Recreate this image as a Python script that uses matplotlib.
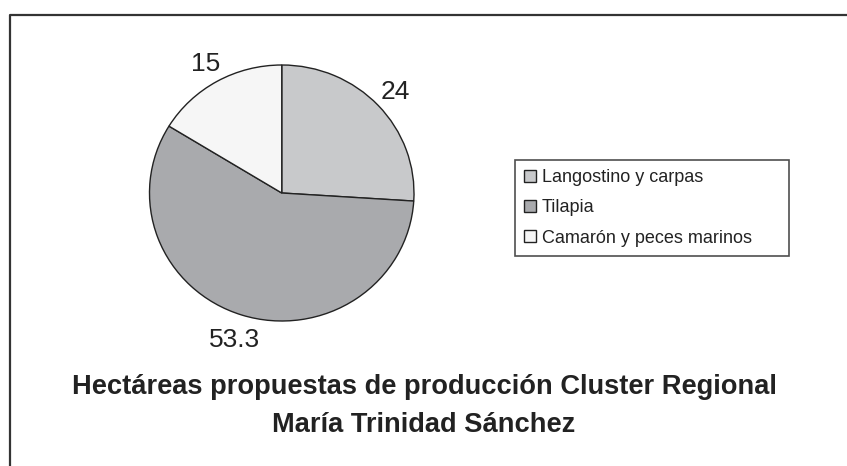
import matplotlib.pyplot as plt
from matplotlib.lines import Line2D

categorias = ["Langostino y carpas", "Tilapia", "Camarón y peces marinos"]
hectareas = [24, 53.3, 15]
etiquetas = ["24", "53.3", "15"]
colores = ["#c8c9cb", "#a9aaad", "#f6f6f6"]
titulo = "Hectáreas propuestas de producción Cluster Regional\nMaría Trinidad Sánchez"

W, H = 847, 466
fig = plt.figure(figsize=(W / 100, H / 100), dpi=100)
plt.rcParams['font.family'] = ['Liberation Sans', 'DejaVu Sans']


def px(x0, y0, x1, y1):
    # pixel box (top-left origin) -> figure fraction rect
    return [x0 / W, 1 - y1 / H, (x1 - x0) / W, (y1 - y0) / H]


# marco de la figura (solo arriba e izquierda visibles)
fig.add_artist(Line2D([10 / W, 10 / W, 1], [0, 1 - 15 / H, 1 - 15 / H],
                      transform=fig.transFigure, color="#333333", lw=1.6))

ax = fig.add_axes(px(149.5, 65, 414, 321))
wedges, textos = ax.pie(hectareas, labels=etiquetas, colors=colores,
                        startangle=90, counterclock=False, labeldistance=1.18,
                        wedgeprops=dict(edgecolor="#222222", linewidth=1.0),
                        textprops=dict(fontsize=19, color="#222222"))
for t in textos:
    t.set_ha("center")
    t.set_va("center_baseline")
ax.set_aspect("auto")
ax.set_xlim(-1, 1)
ax.set_ylim(-1, 1)
ax.axis("off")

leg = fig.legend(wedges, categorias, loc="upper left", mode="expand",
                 bbox_to_anchor=(515 / W, 1 - 256 / H, (789 - 515) / W, (256 - 160) / H),
                 fontsize=13, frameon=True, fancybox=False, borderaxespad=0,
                 handlelength=0.65, handleheight=0.65, handletextpad=0.35,
                 labelspacing=0.74, borderpad=0.5)
leg.get_frame().set_edgecolor("#222222")
leg.get_frame().set_linewidth(1.2)
for t in leg.get_texts():
    t.set_color("#222222")

fig.text(424 / W, 1 - 406 / H, titulo, ha="center", va="center",
         fontsize=19.6, fontweight="bold", linespacing=1.65, color="#222222")

fig.savefig("out.png", dpi=100)
